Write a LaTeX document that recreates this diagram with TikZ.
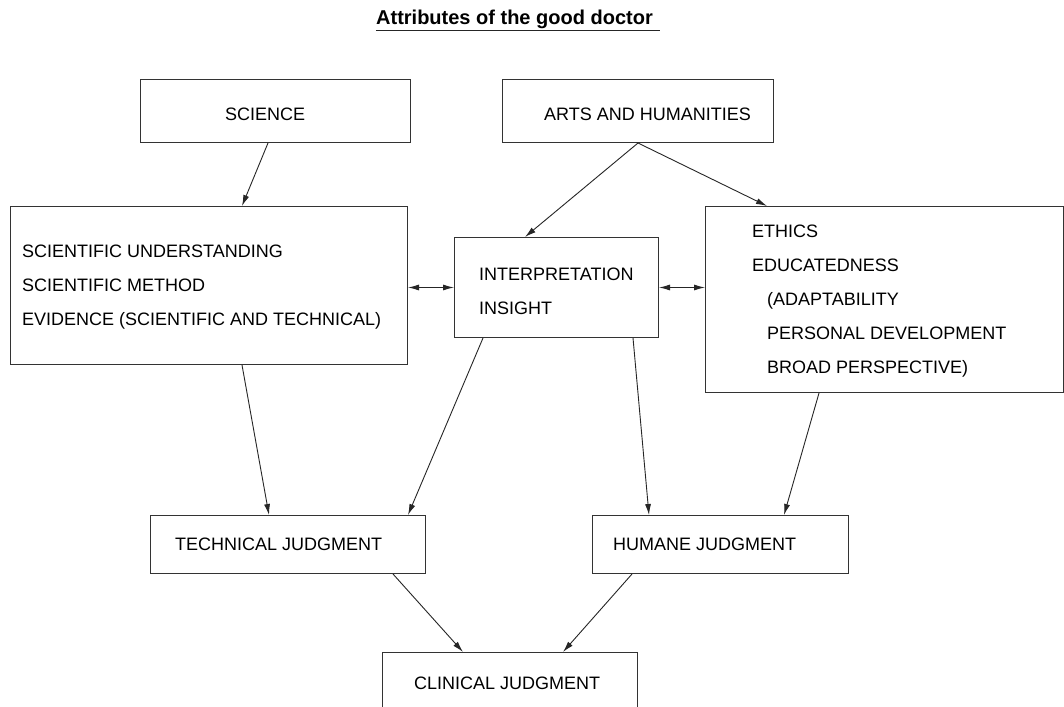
\documentclass[tikz,border=0pt]{standalone}
\usepackage{fontspec}
\setmainfont{Liberation Sans}
\usepackage{tikz}
\usetikzlibrary{arrows.meta, positioning, calc}

\begin{document}
\begin{tikzpicture}[
    x=1pt, y=-1pt,
    box/.style={
        rectangle,
        draw=black!80,
        line width=1pt,
        anchor=north west,
        inner sep=0pt
    },
    lbl/.style={
        anchor=west,
        inner sep=0pt,
        align=left,
        font=\fontsize{18}{34}\selectfont
    },
    line/.style={
        draw=black!85,
        line width=0.9pt,
        -{Latex[length=11pt,width=6pt]}
    },
    dline/.style={
        draw=black!85,
        line width=0.9pt,
        {Latex[length=11pt,width=6pt]}-{Latex[length=11pt,width=6pt]}
    }
]
\fill[white] (0,0) rectangle (1064,706);
\useasboundingbox (0,0) rectangle (1064,706);

% Title
\node [anchor=base east, inner sep=0pt, font=\fontsize{20}{24}\selectfont\bfseries] (title) at (653,25) {Attributes of the good doctor};
\draw [black!85, line width=1.2pt] ([yshift=-1pt]title.south west) -- ([xshift=7pt,yshift=-1pt]title.south east);

% Boxes
\node [box, minimum width=270pt, minimum height=63pt] (science) at (140,79) {};
\node [box, minimum width=271pt, minimum height=63pt] (arts) at (502,79) {};
\node [box, minimum width=397pt, minimum height=158pt] (sci) at (10,206) {};
\node [box, minimum width=204pt, minimum height=100pt] (interp) at (454,237) {};
\node [box, minimum width=358pt, minimum height=186pt] (ethics) at (705,206) {};
\node [box, minimum width=275pt, minimum height=58pt] (tech) at (150,515) {};
\node [box, minimum width=256pt, minimum height=58pt] (humane) at (592,515) {};
\node [box, minimum width=255pt, minimum height=62pt] (clinical) at (382,652) {};

% Texts
\node [lbl] (sciencetxt) at ([xshift=85pt,yshift=-3pt]science.west) {SCIENCE};
\node [lbl] (artstxt) at ([xshift=42pt,yshift=-3pt]arts.west) {ARTS AND HUMANITIES};
\node [lbl] (scitxt) at ([xshift=12pt,yshift=-2pt]sci.west) {SCIENTIFIC UNDERSTANDING\\SCIENTIFIC METHOD\\EVIDENCE (SCIENTIFIC AND TECHNICAL)};
\node [lbl] (interptxt) at ([xshift=25pt,yshift=-4pt]interp.west) {INTERPRETATION\\INSIGHT};
\node [lbl] (ethicstxt) at ([xshift=47pt,yshift=-2pt]ethics.west) {ETHICS\\EDUCATEDNESS\\\hspace*{15pt}(ADAPTABILITY\\\hspace*{15pt}PERSONAL DEVELOPMENT\\\hspace*{15pt}BROAD PERSPECTIVE)};
\node [lbl] (techtxt) at ([xshift=25pt]tech.west) {TECHNICAL JUDGMENT};
\node [lbl] (humanetxt) at ([xshift=21pt]humane.west) {HUMANE JUDGMENT};
\node [lbl] (clinicaltxt) at ([xshift=32pt]clinical.west) {CLINICAL JUDGMENT};

% Paths
\path [line] ([xshift=128pt]science.south west) -- ([xshift=232pt]sci.north west);
\path [line] ([xshift=136pt]arts.south west) -- ([xshift=71pt]interp.north west);
\path [line] ([xshift=136pt]arts.south west) -- ([xshift=62pt]ethics.north west);
\path [dline] (interp.west -| sci.east) -- (interp.west);
\path [dline] (interp.east) -- (interp.east -| ethics.west);
\path [line] ([xshift=232pt]sci.south west) -- ([xshift=119pt]tech.north west);
\path [line] ([xshift=29pt]interp.south west) -- ([xshift=258pt]tech.north west);
\path [line] ([xshift=179pt]interp.south west) -- ([xshift=57pt]humane.north west);
\path [line] ([xshift=114pt]ethics.south west) -- ([xshift=192pt]humane.north west);
\path [line] ([xshift=243pt]tech.south west) -- ([xshift=81pt]clinical.north west);
\path [line] ([xshift=40pt]humane.south west) -- ([xshift=181pt]clinical.north west);

\end{tikzpicture}
\end{document}
